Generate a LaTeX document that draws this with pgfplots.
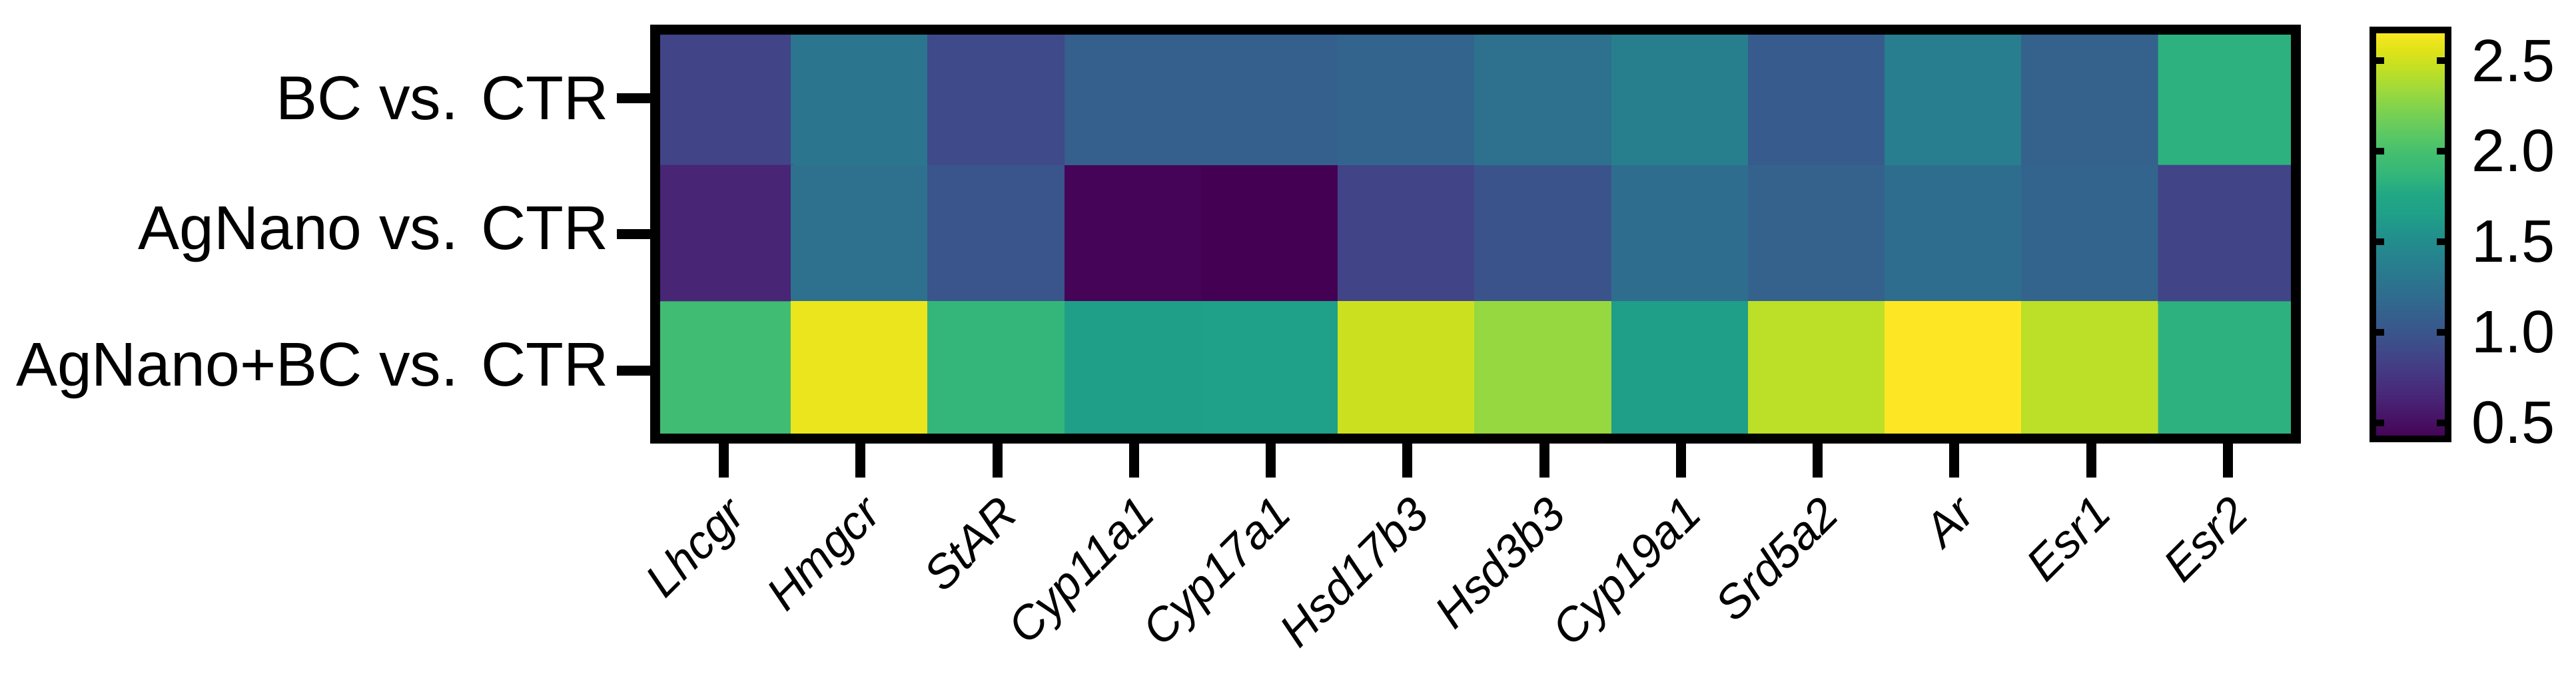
\documentclass[border=0pt]{standalone}
\usepackage{fontspec}
\setmainfont{Liberation Sans}
\usepackage{pgfplots}
\pgfplotsset{compat=1.18}

\pgfplotsset{
  colormap={vir}{
    rgb255=(68,1,84) rgb255=(71,19,101) rgb255=(72,36,117) rgb255=(70,52,128)
    rgb255=(65,68,135) rgb255=(59,82,139) rgb255=(53,95,141) rgb255=(47,108,142)
    rgb255=(42,120,142) rgb255=(37,132,142) rgb255=(33,145,140) rgb255=(31,160,136)
    rgb255=(34,168,132) rgb255=(53,183,121) rgb255=(68,191,112) rgb255=(94,201,98)
    rgb255=(122,209,81) rgb255=(155,217,60) rgb255=(189,223,38) rgb255=(223,227,24)
    rgb255=(253,231,37)
  },
}

% fold change, rows: BC, AgNano, AgNano+BC vs. CTR
\pgfplotstableread{
x y c
0 0 0.86
1 0 1.29
2 0 0.91
3 0 1.09
4 0 1.09
5 0 1.13
6 0 1.25
7 0 1.38
8 0 1.05
9 0 1.36
10 0 1.11
11 0 1.83
0 1 0.64
1 1 1.25
2 1 1.00
3 1 0.43
4 1 0.41
5 1 0.86
6 1 0.98
7 1 1.21
8 1 1.11
9 1 1.21
10 1 1.13
11 1 0.86
0 2 1.96
1 2 2.60
2 2 1.87
3 2 1.64
4 2 1.65
5 2 2.49
6 2 2.31
7 2 1.64
8 2 2.44
9 2 2.67
10 2 2.44
11 2 1.83
}\fold

\begin{document}
\begin{tikzpicture}
\begin{axis}[
  at={(0,0)}, anchor=center,
  scale only axis, width=246.3pt, height=61.4pt,
  xmin=-0.5, xmax=11.5, ymin=-0.5, ymax=2.5, y dir=reverse,
  axis on top,
  axis line style={line width=1.5pt},
  xtick={0,...,11}, ytick={0,1,2},
  xticklabels={Lhcgr,Hmgcr,StAR,Cyp11a1,Cyp17a1,Hsd17b3,Hsd3b3,Cyp19a1,Srd5a2,Ar,Esr1,Esr2},
  yticklabels={BC vs. CTR,AgNano vs. CTR,AgNano+BC vs. CTR},
  tick align=outside, xtick pos=bottom, ytick pos=left,
  major tick length=5.8pt,
  tick style={line width=1.5pt, black},
  xticklabel style={font=\fontsize{7}{8}\selectfont\itshape, rotate=45, anchor=north east, inner sep=1.5pt},
  yticklabel style={font=\fontsize{9.3}{11}\selectfont, inner sep=1pt},
  colormap name=vir,
  point meta min=0.41, point meta max=2.67,
  colorbar,
  colorbar style={
    at={(parent axis.north east)}, anchor=north west, xshift=2.96pt,
    scale only axis, width=11.3pt, height=61.4pt,
    axis on top,
    axis line style={line width=1pt},
    ytick={0.5,1,1.5,2,2.5},
    ytick pos=both, yticklabel pos=right, tick align=inside,
    major tick length=1.7pt,
    tick style={line width=1pt, black},
    yticklabel style={font=\fontsize{9}{11}\selectfont,
      /pgf/number format/assume math mode=true,
      /pgf/number format/fixed, /pgf/number format/fixed zerofill,
      /pgf/number format/precision=1},
  },
]
\addplot[matrix plot*, mesh/cols=12, point meta=explicit] table[x=x, y=y, meta=c] {\fold};
\end{axis}
\pgfresetboundingbox
\path[use as bounding box] (-221.55pt,-68.1pt) rectangle (165.15pt,35.2pt);
\end{tikzpicture}
\end{document}
